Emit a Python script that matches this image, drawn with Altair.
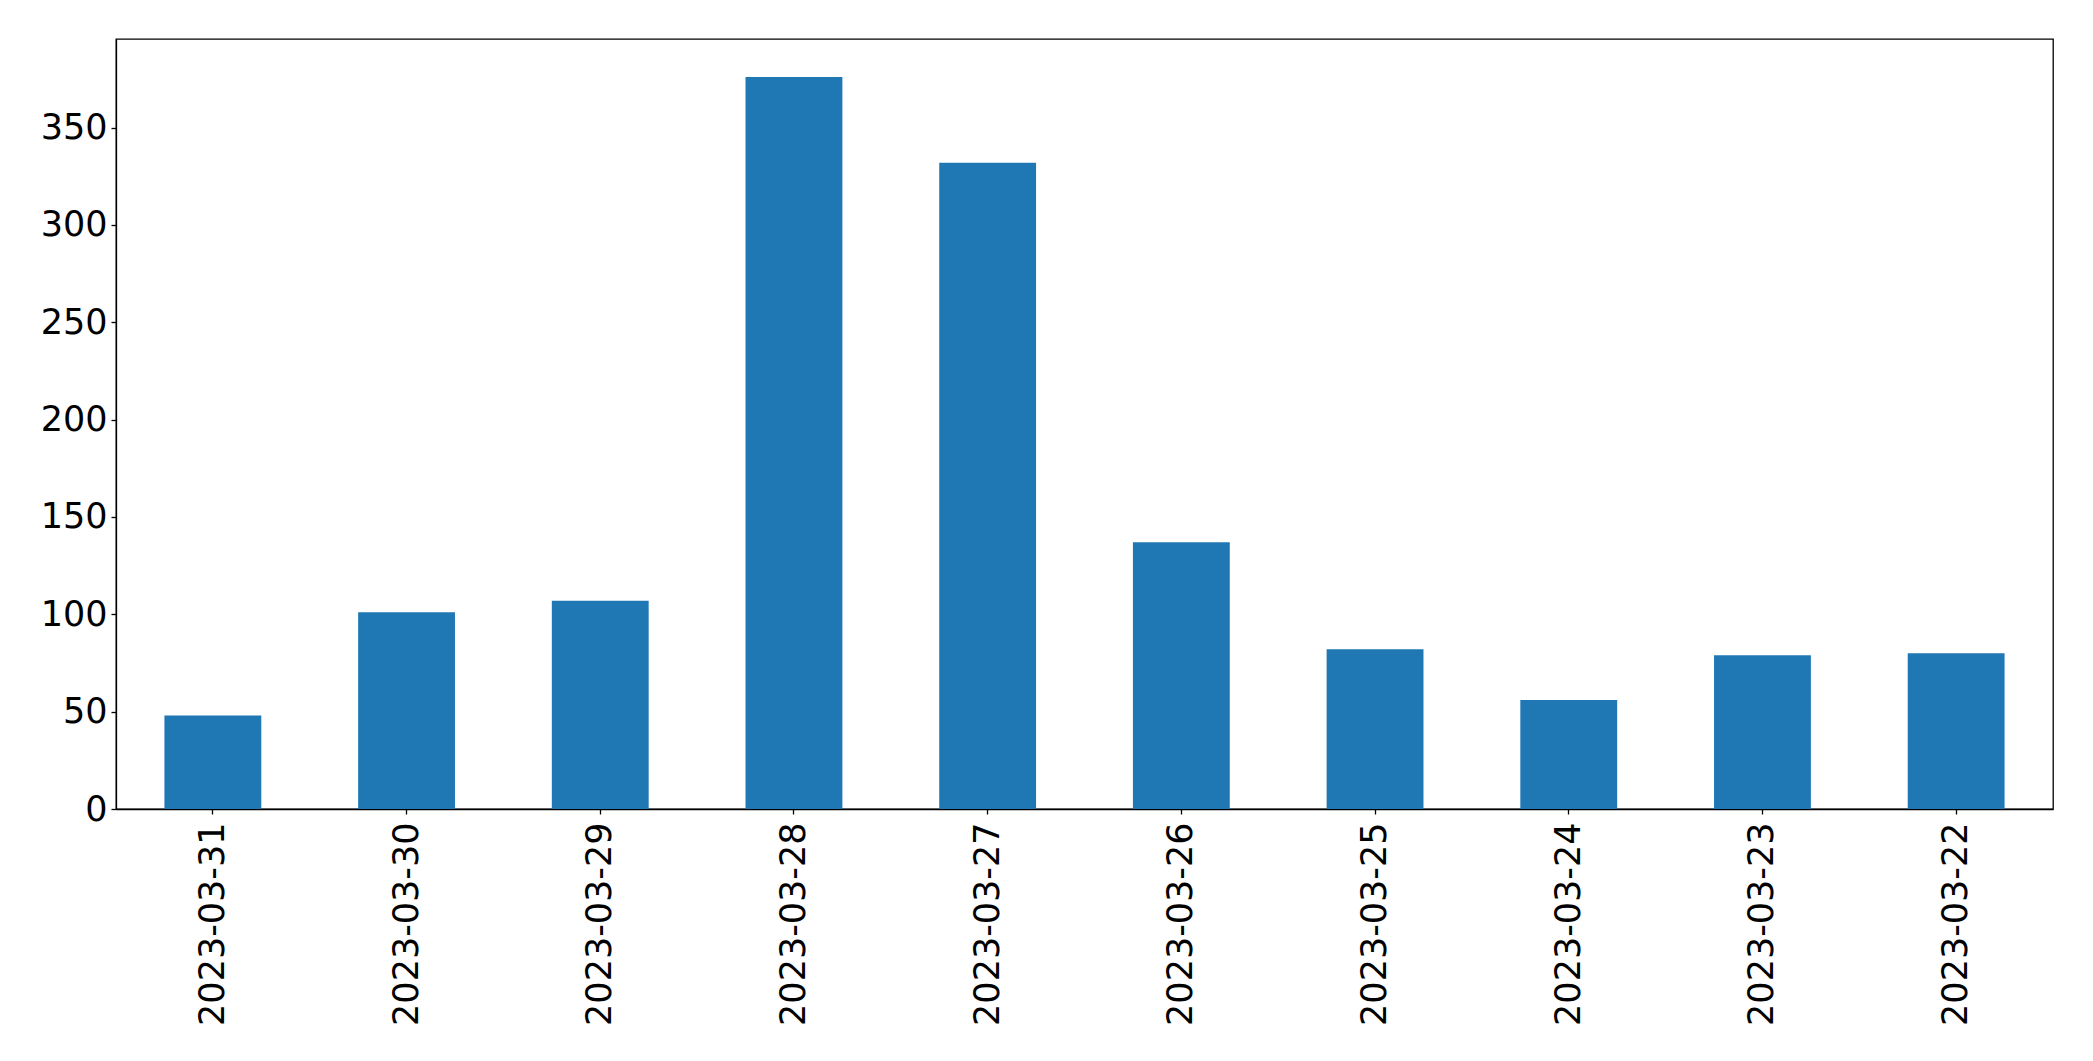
import altair as alt
import pandas as pd

dates = ["2023-03-31", "2023-03-30", "2023-03-29", "2023-03-28", "2023-03-27",
         "2023-03-26", "2023-03-25", "2023-03-24", "2023-03-23", "2023-03-22"]
counts = [48, 101, 107, 376, 332, 137, 82, 56, 79, 80]
y_ticks = [0, 50, 100, 150, 200, 250, 300, 350]

df = pd.DataFrame({"date": dates, "count": counts})

FONT = "DejaVu Sans"

chart = alt.Chart(df).mark_bar(color="#1f77b4").encode(
    x=alt.X("date:N", sort=dates, title=None,
            scale=alt.Scale(paddingInner=0.5, paddingOuter=0.25),
            axis=alt.Axis(labelAngle=-90, labelFontSize=35, labelFont=FONT,
                          labelColor="black", tickColor="black", tickSize=5,
                          tickWidth=1.3, domainColor="black", domainWidth=1.3,
                          labelPadding=8, labelLimit=0, grid=False)),
    y=alt.Y("count:Q", title=None,
            scale=alt.Scale(domain=[0, 395.5], nice=False, zero=True),
            axis=alt.Axis(values=y_ticks, labelFontSize=35, labelFont=FONT,
                          labelColor="black", tickColor="black", tickSize=5,
                          tickWidth=1.3, domainColor="black", domainWidth=1.3,
                          labelPadding=4, grid=False)),
).properties(
    width=1937, height=770,
    autosize=alt.AutoSizeParams(type="none"),
    padding={"left": 108, "top": 31, "right": 20, "bottom": 240},
).configure_view(
    stroke="black", strokeWidth=1.3
)

chart.save("out.html", embed_options={"renderer": "svg", "actions": False})
